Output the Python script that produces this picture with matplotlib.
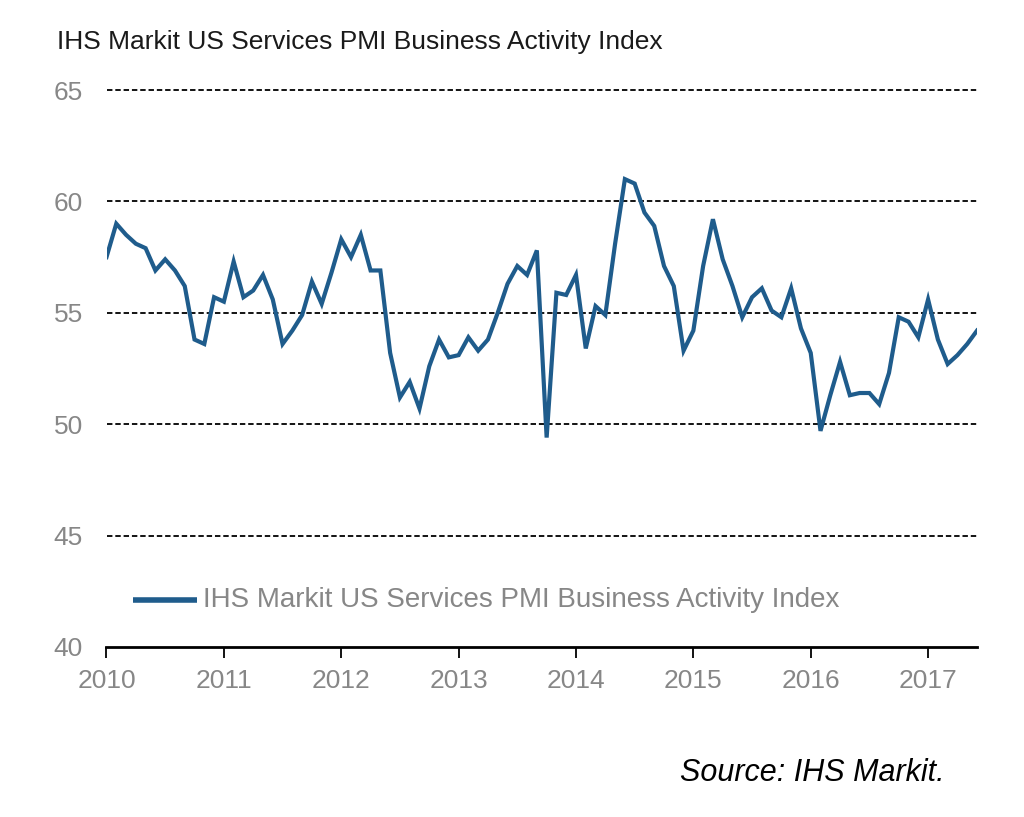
import matplotlib
matplotlib.use("Agg")
import matplotlib.pyplot as plt
import numpy as np

# monthly readings, Jan 2010 .. Jun 2017
pmi_2010 = [57.5, 59.0, 58.5, 58.1, 57.9, 56.9, 57.4, 56.9, 56.2, 53.8, 53.6, 55.7]
pmi_2011 = [55.5, 57.3, 55.7, 56.0, 56.7, 55.6, 53.6, 54.2, 54.9, 56.4, 55.4, 56.8]
pmi_2012 = [58.3, 57.5, 58.5, 56.9, 56.9, 53.2, 51.2, 51.9, 50.7, 52.6, 53.8, 53.0]
pmi_2013 = [53.1, 53.9, 53.3, 53.8, 55.0, 56.3, 57.1, 56.7, 57.8, 49.4, 55.9, 55.8]
pmi_2014 = [56.7, 53.4, 55.3, 54.9, 58.1, 61.0, 60.8, 59.5, 58.9, 57.1, 56.2, 53.3]
pmi_2015 = [54.2, 57.1, 59.2, 57.4, 56.2, 54.8, 55.7, 56.1, 55.1, 54.8, 56.1, 54.3]
pmi_2016 = [53.2, 49.7, 51.3, 52.8, 51.3, 51.4, 51.4, 50.9, 52.3, 54.8, 54.6, 53.9]
pmi_2017 = [55.6, 53.8, 52.7, 53.1, 53.6, 54.2]

years = [2010, 2011, 2012, 2013, 2014, 2015, 2016, 2017]
yticks = [40, 45, 50, 55, 60, 65]

title = "IHS Markit US Services PMI Business Activity Index"
series_name = "IHS Markit US Services PMI Business Activity Index"
source = "Source: IHS Markit."

values = pmi_2010 + pmi_2011 + pmi_2012 + pmi_2013 + pmi_2014 + pmi_2015 + pmi_2016 + pmi_2017
dates = 2010 + np.arange(len(values)) / 12.0

SANS = ["Liberation Sans", "DejaVu Sans"]
LINE_C = "#1f5c8c"
TICK_C = "#878787"

fig = plt.figure(figsize=(10.24, 8.17), dpi=100, facecolor="white")
ax = fig.add_axes([106.5 / 1024, 1 - 647 / 817, (977 - 106.5) / 1024, (647 - 90) / 817])

for y in yticks[1:]:
    ax.axhline(y, color="black", lw=1.3, ls=(0, (3, 1.6)), zorder=1, clip_on=False)

ax.plot(dates, values, color=LINE_C, lw=3, solid_joinstyle="miter", zorder=3)

ax.set_xlim(2010, 2010 + (len(values) - 1) / 12.0)
ax.set_ylim(40, 65)
ax.set_yticks(yticks)
ax.set_xticks(years)
ax.set_xticklabels([str(y) for y in years])

for side in ["left", "right", "top"]:
    ax.spines[side].set_visible(False)
ax.spines["bottom"].set_linewidth(2)
ax.spines["bottom"].set_color("black")

ax.tick_params(axis="y", length=0, pad=17, labelsize=19, labelcolor=TICK_C)
ax.tick_params(axis="x", length=8, width=1.3, direction="out", pad=8,
               labelsize=19, labelcolor=TICK_C)
for lab in ax.get_xticklabels() + ax.get_yticklabels():
    lab.set_family(SANS)

# legend drawn by hand inside the plot area
ax.plot([2010.23, 2010.77], [42.1, 42.1], color=LINE_C, lw=4, solid_capstyle="butt", zorder=3)
ax.text(2010.82, 42.1, series_name, ha="left", va="center", fontsize=20,
        color=TICK_C, family=SANS)

fig.text(57 / 1024, 1 - 42 / 817, title, ha="left", va="center", fontsize=19,
         color="#1a1a1a", family=SANS)
fig.text(945 / 1024, 1 - 773 / 817, source, ha="right", va="center", fontsize=22,
         style="italic", color="black", family=SANS)

fig.savefig("out.png", dpi=100, facecolor="white")
